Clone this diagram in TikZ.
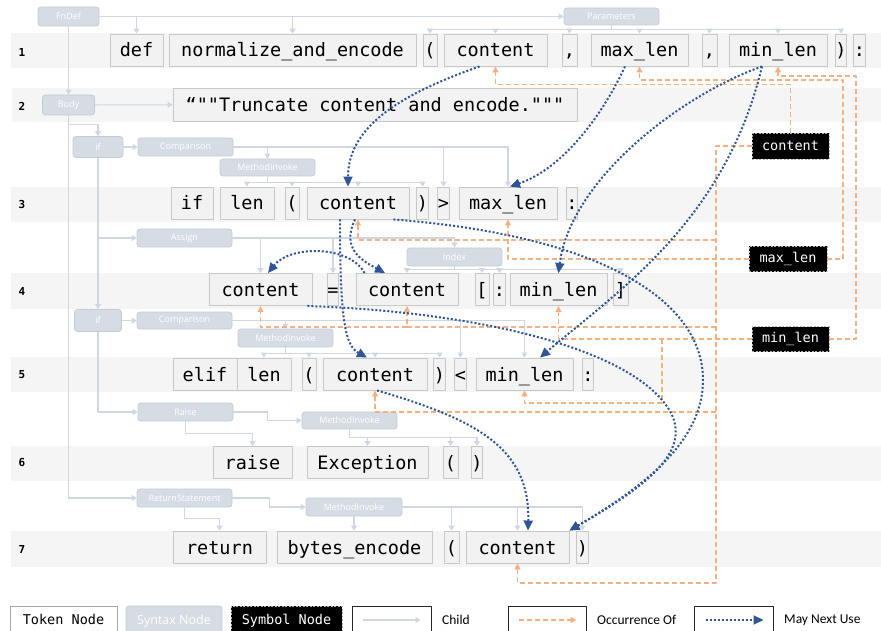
\documentclass[tikz,border=0pt]{standalone}
\usepackage{fontspec}
\setmonofont{DejaVu Sans Mono}
\setsansfont{Carlito}
\newfontfamily\synfont{Open Sans}
\usetikzlibrary{arrows.meta}
\definecolor{bandgray}{HTML}{F5F5F5}
\definecolor{tokfill}{HTML}{F2F2F2}
\definecolor{tokline}{HTML}{C8C8C8}
\definecolor{synfill}{HTML}{D6DCE4}
\definecolor{synline}{HTML}{C4CBD5}
\definecolor{childcol}{HTML}{D0D7E3}
\definecolor{occcol}{HTML}{F4B183}
\definecolor{usecol}{HTML}{2F5597}
\tikzset{
  tok/.style={draw=tokline,fill=tokfill,line width=0.9pt,inner sep=0pt,minimum height=32pt,
    text height=18pt,text depth=4pt,font=\ttfamily\fontsize{18.5}{20}\selectfont},
  syn/.style={draw=synline,fill=synfill,rounded corners=3pt,line width=0.8pt,inner sep=0pt,
    minimum width=95pt,minimum height=18pt,text=white,font=\synfont\fontsize{9}{10}\selectfont},
  sym/.style={draw=white!70!black,dash pattern=on 2pt off 1.5pt,fill=black,text=white,line width=0.9pt,
    inner sep=0pt,minimum width=77pt,minimum height=25pt,font=\ttfamily\fontsize{13.5}{15}\selectfont},
  band/.style={fill=bandgray},
  lineno/.style={font=\ttfamily\bfseries\fontsize{11}{12}\selectfont,inner sep=0pt},
  child/.style={->,draw=childcol,line width=1.1pt},
  occ/.style={-{Triangle[length=6pt,width=6pt]},draw=occcol,line width=1.2pt,dash pattern=on 5pt off 3pt},
  nextuse/.style={-{Triangle[length=10pt,width=9pt]},draw=usecol,line width=2pt,dash pattern=on 2pt off 2pt},
  legbox/.style={draw=black!85,fill=white,line width=1pt,minimum height=30pt},
  legtext/.style={anchor=west,inner sep=0pt,font=\sffamily\fontsize{13.5}{15}\selectfont}
}
\begin{document}
\begin{tikzpicture}[line join=round,>={Triangle[length=5pt,width=6pt]},x=1pt,y=-1pt]
\useasboundingbox (0,0) rectangle (881,631);
\clip (0,0) rectangle (881,631);
\fill[white] (0,0) rectangle (881,631);
% line bands
\fill[band] (11,33) rectangle (881,68);
\fill[band] (12,88) rectangle (881,122);
\fill[band] (11,187) rectangle (881,222);
\fill[band] (11,273) rectangle (881,309);
\fill[band] (11,357) rectangle (881,392);
\fill[band] (11,446) rectangle (881,481);
\fill[band] (11,531) rectangle (881,567);
\node[lineno] (no1) at (22,52) {1};
\node[lineno] (no2) at (22,106) {2};
\node[lineno] (no3) at (22,204) {3};
\node[lineno] (no4) at (22,291) {4};
\node[lineno] (no5) at (22,375) {5};
\node[lineno] (no6) at (22,463) {6};
\node[lineno] (no7) at (22,549) {7};
% tokens, line 1
\node[tok,minimum width=53pt] (def) at (136.5,50) {def};
\node[tok,minimum width=247pt] (fname) at (292.5,50) {normalize\_and\_encode};
\node[tok,minimum width=14pt] (lp1) at (430,50) {(};
\node[tok,minimum width=103pt] (content1) at (495.5,50) {content};
\node[tok,minimum width=15pt] (comma1) at (569.5,50) {,};
\node[tok,minimum width=97pt] (maxlen1) at (639.5,50) {max\_len};
\node[tok,minimum width=15pt] (comma2) at (709.5,50) {,};
\node[tok,minimum width=98pt] (minlen1) at (778,50) {min\_len};
\node[tok,minimum width=10pt] (rp1) at (841,50) {)};
\node[tok,minimum width=11pt] (colon1) at (859.5,50) {:};
% line 2
\node[tok,minimum width=404pt,minimum height=33pt] (doc) at (375,104.5) {“""Truncate content and encode."""};
% line 3
\node[tok,minimum width=42pt] (if3) at (192,203) {if};
\node[tok,minimum width=54pt] (len3) at (247,203) {len};
\node[tok,minimum width=14pt] (lp3) at (292,203) {(};
\node[tok,minimum width=102pt] (content3) at (358,203) {content};
\node[tok,minimum width=11pt] (rp3) at (422.5,203) {)};
\node[tok,minimum width=11pt] (gt3) at (443.5,203) {>};
\node[tok,minimum width=98pt] (maxlen3) at (508,203) {max\_len};
\node[tok,minimum width=10pt] (colon3) at (572,203) {:};
% line 4
\node[tok,minimum width=103pt] (content4a) at (260.5,289.5) {content};
\node[tok,minimum width=10pt] (eq4) at (333,289.5) {=};
\node[tok,minimum width=102pt] (content4b) at (407,289.5) {content};
\node[tok,minimum width=14pt] (lb4) at (482,289.5) {[};
\node[tok,minimum width=11pt] (colon4) at (499.5,289.5) {:};
\node[tok,minimum width=97pt] (minlen4) at (558.5,289.5) {min\_len};
\node[tok,minimum width=15pt] (rb4) at (620.5,289.5) {]};
% line 5
\node[tok,minimum width=64pt] (elif5) at (205,374) {elif};
\node[tok,minimum width=54pt] (len5) at (264,374) {len};
\node[tok,minimum width=14pt] (lp5) at (309,374) {(};
\node[tok,minimum width=104pt] (content5) at (375,374) {content};
\node[tok,minimum width=11pt] (rp5) at (439.5,374) {)};
\node[tok,minimum width=11pt] (lt5) at (460.5,374) {<};
\node[tok,minimum width=97pt] (minlen5) at (524.5,374) {min\_len};
\node[tok,minimum width=10pt] (colon5) at (588,374) {:};
% line 6
\node[tok,minimum width=79pt] (raise6) at (252.5,462.5) {raise};
\node[tok,minimum width=121pt] (exc6) at (367.5,462.5) {Exception};
\node[tok,minimum width=15pt] (lp6) at (450.5,462.5) {(};
\node[tok,minimum width=10pt] (rp6) at (477,462.5) {)};
% line 7
\node[tok,minimum width=93pt] (return7) at (219.5,547) {return};
\node[tok,minimum width=155pt] (bytes7) at (354.5,547) {bytes\_encode};
\node[tok,minimum width=15pt] (lp7) at (451.5,547) {(};
\node[tok,minimum width=103pt] (content7) at (517.5,547) {content};
\node[tok,minimum width=11pt] (rp7) at (582.5,547) {)};
% syntax nodes
\node[syn,minimum width=61pt,minimum height=19pt] (fndef) at (68.5,16.5) {FnDef};
\node[syn,minimum height=17pt] (params) at (611.5,16.5) {Parameters};
\node[syn,minimum width=52pt,minimum height=20pt] (body) at (68.5,105) {Body};
\node[syn,minimum width=50pt,minimum height=21pt] (if1) at (98,147) {if};
\node[syn] (cmp1) at (185.5,147) {Comparison};
\node[syn,minimum height=17pt] (mi3) at (267.5,167.5) {MethodInvoke};
\node[syn] (assign) at (184.5,238) {Assign};
\node[syn] (index) at (454.5,257) {Index};
\node[syn,minimum width=47pt,minimum height=22pt] (if2) at (98,320.5) {if};
\node[syn,minimum height=17pt] (cmp2) at (184.5,320.5) {Comparison};
\node[syn] (mi5) at (285.5,338) {MethodInvoke};
\node[syn] (raisen) at (185.5,412) {Raise};
\node[syn,minimum height=17pt] (mi6) at (349.5,420.5) {MethodInvoke};
\node[syn] (ret) at (184.5,498) {ReturnStatement};
\node[syn,minimum width=96pt] (mi7) at (354,507) {MethodInvoke};
% symbol nodes
\node[sym,minimum height=26pt] (symcontent) at (790.5,146) {content};
\node[sym,minimum width=78pt] (symmax) at (788,259) {max\_len};
\node[sym] (symmin) at (790.5,339) {min\_len};
% child edges
\draw[child] (fndef) -- (params);
\draw[child] (fndef.east) -| (def.north);
\draw[child] (fndef.east) -| (fname.north);
\draw[child] (fndef) -- (body);
\draw[child] (params.south) -- ++(0,4) -| (lp1.north);
\draw[child] (params.south) -- ++(0,4) -| (content1.north);
\draw[child] (params.south) -- ++(0,4) -| (comma1.north);
\draw[child] (params.south) -- ++(0,4) -| (maxlen1.north);
\draw[child] (params.south) -- ++(0,4) -| (comma2.north);
\draw[child] (params.south) -- ++(0,4) -| (minlen1.north);
\draw[child] (params.south) -- ++(0,4) -| (rp1.north);
\draw[child] (body) -- (doc);
\draw[child] (body.south) -- ++(0,9) -| (if1.north);
\draw[child] (body.south) |- (ret);
\draw[child] (if1) -- (cmp1);
\draw[child] (if1) |- (assign);
\draw[child] (if1) -- (if2);
\draw[child] (cmp1.east) -| (mi3.north);
\draw[child] (cmp1.east) -| (gt3.north);
\draw[child] (cmp1.east) -| (maxlen3.north);
\draw[child] (mi3.south) -- ++(0,6) -| (len3.north);
\draw[child] (mi3.south) -- ++(0,6) -| (lp3.north);
\draw[child] (mi3.south) -- ++(0,6) -| (content3.north);
\draw[child] (mi3.south) -- ++(0,6) -| (rp3.north);
\draw[child] (assign.east) -| (content4a.north);
\draw[child] (assign.east) -| (eq4.north);
\draw[child] (assign.east) -| (index.north);
\draw[child] (index.south) -- ++(0,3) -| (content4b.north);
\draw[child] (index.south) -- ++(0,3) -| (lb4.north);
\draw[child] (index.south) -- ++(0,3) -| (colon4.north);
\draw[child] (index.south) -- ++(0,3) -| (minlen4.north);
\draw[child] (index.south) -- ++(0,3) -| (rb4.north);
\draw[child] (if2) -- (cmp2);
\draw[child] (if2) |- (raisen);
\draw[child] (cmp2.east) -| (mi5.north);
\draw[child] (cmp2.east) -| (lt5.north);
\draw[child] (cmp2.east) -| (minlen5.north);
\draw[child] (mi5.south) -- ++(0,6) -| (len5.north);
\draw[child] (mi5.south) -- ++(0,6) -| (lp5.north);
\draw[child] (mi5.south) -- ++(0,6) -| (content5.north);
\draw[child] (mi5.south) -- ++(0,6) -| (rp5.north);
\draw[child] (raisen.south) -- ++(0,12) -| (raise6.north);
\draw[child] (raisen.east) -- ++(34,0) |- (mi6.west);
\draw[child] (mi6.south) -- ++(0,8) -| (exc6.north);
\draw[child] (mi6.south) -- ++(0,8) -| (lp6.north);
\draw[child] (mi6.south) -- ++(0,8) -| (rp6.north);
\draw[child] (ret.south) -- ++(0,11) -| (return7.north);
\draw[child] (ret.east) -- ++(37,0) |- (mi7.west);
\draw[child] (mi7.south) -- (mi7.south |- bytes7.north);
\draw[child] (mi7.east) -| (lp7.north);
\draw[child] (mi7.east) -| (content7.north);
\draw[child] (mi7.east) -| (rp7.north);
% occurrence edges
\coordinate (cj1) at (716,146);
\coordinate (cj2) at (716,240);
\coordinate (cj3) at (716,327);
\coordinate (cj4) at (716,412);
\coordinate (cj5) at (716,583);
\coordinate (mj1) at (843,80);
\coordinate (nj1) at (856,76);
\coordinate (nj2) at (662,339);
\coordinate (nj3) at (662,403);
\draw[occ] (symcontent.north) -- ++(0,-48) -| (content1.south);
\draw[occ] (symcontent.west) -- (cj1) -- (cj5) -| (content7.south);
\draw[occ] (cj2) -| (content3.south);
\draw[occ] (cj3) -| (content4b.south);
\draw[occ] (content4b.south |- cj3) -| (content4a.south);
\draw[occ] (cj4) -| (content5.south);
\draw[occ] (symmax.east) -| (mj1) -| (maxlen1.south);
\draw[occ] (symmax.west) -| (maxlen3.south);
\draw[occ] (symmin.east) -| (nj1) -| (minlen1.south);
\draw[occ] (symmin.west) -| (minlen4.south);
\draw[occ] (nj2) -- (nj3) -| (minlen5.south);
% may next use
\coordinate (bend7) at (703,380);
\coordinate (bend9) at (672,415);
\draw[nextuse] ([xshift=-16pt]content1.south) .. controls +(-74,26) and +(0,-62) .. ([xshift=-10pt]content3.north);
\draw[nextuse] ([xshift=-14.5pt]maxlen1.south) .. controls +(-25,54) and +(50,-17) .. ([xshift=2pt]maxlen3.north);
\draw[nextuse] ([xshift=-16pt]minlen1.south) .. controls +(-82,29) and +(12,-93) .. (minlen4.north);
\draw[nextuse] ([xshift=-16pt]minlen1.south) .. controls +(-37,154) and +(80,-68) .. ([xshift=15.5pt]minlen5.north);
\draw[nextuse] ([xshift=-3pt]content3.south) .. controls +(-15,31) and +(-20,-11) .. ([xshift=-22pt]content4b.north);
\draw[nextuse] ([xshift=-18pt]content3.south) .. controls +(0,101) and +(-22,-12) .. ([xshift=-8pt]content5.north);
\draw[nextuse] ([xshift=-16pt]content3.south east) .. controls +(207,16) and +(0,-80) .. (bend7)
  .. controls +(0,60) and +(78,-46) .. (content7.north east);
\draw[nextuse] ([xshift=9pt]content4b.north west) .. controls +(-15,-28) and +(22,-28) .. ([xshift=7.5pt]content4a.north);
\draw[nextuse] ([xshift=-5pt]content4a.south east) .. controls +(173,6) and +(-32,-65) .. (bend9)
  .. controls +(18,40) and +(71,-41) .. (content7.north east);
\draw[nextuse] ([xshift=2pt]content5.south) .. controls +(103,30) and +(2,-81) .. ([xshift=10.5pt]content7.north);
% legend
\node[tok,fill=white,draw=black!35,minimum width=107pt,minimum height=30pt,text height=10pt,text depth=3pt,
  font=\ttfamily\fontsize{13.5}{15}\selectfont] (legtok) at (63.5,621) {Token Node};
\node[syn,minimum width=96pt,minimum height=30pt,font=\synfont\fontsize{12.5}{14}\selectfont] (legsyn) at (174,621) {Syntax Node};
\node[sym,minimum width=111pt,minimum height=30pt] (legsym) at (286.5,621) {Symbol Node};
\node[legbox,minimum width=79pt] (legchild) at (391.5,621) {};
\node[legtext] (txtchild) at (442,620) {Child};
\node[legbox,minimum width=78pt] (legocc) at (547,621) {};
\node[legtext] (txtocc) at (597,620) {Occurrence Of};
\node[legbox,minimum width=79pt] (leguse) at (733.5,621) {};
\node[legtext] (txtuse) at (784,620) {May Next Use};
\draw[child] ([xshift=11pt,yshift=1pt]legchild.west) -- ([xshift=-11pt,yshift=1pt]legchild.east);
\draw[occ] ([xshift=11pt,yshift=1pt]legocc.west) -- ([xshift=-10pt,yshift=1pt]legocc.east);
\draw[nextuse] ([xshift=12pt,yshift=1pt]leguse.west) -- ([xshift=-10pt,yshift=1pt]leguse.east);
\end{tikzpicture}
\end{document}
